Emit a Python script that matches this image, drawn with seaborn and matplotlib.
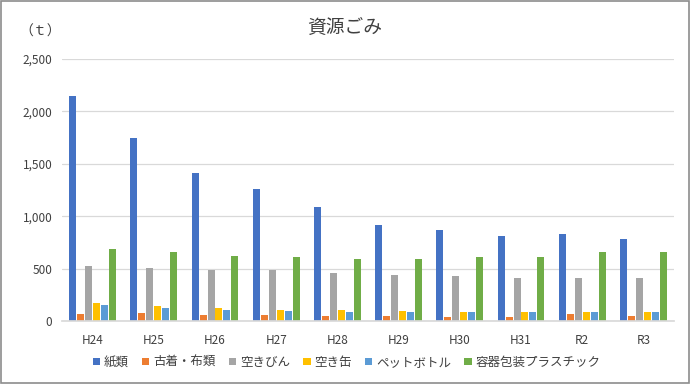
import numpy as np
import pandas as pd
import matplotlib
matplotlib.use("Agg")
import matplotlib.pyplot as plt
import seaborn as sns

years = ["H24", "H25", "H26", "H27", "H28", "H29", "H30", "H31", "R2", "R3"]
kinds = ["紙類", "古着・布類", "空きびん", "空き缶", "ペットボトル", "容器包装プラスチック"]
paper = [2145, 1750, 1410, 1260, 1085, 915, 870, 808, 828, 785]
cloth = [64, 74, 61, 61, 45, 45, 42, 42, 64, 45]
bottle = [523, 510, 488, 488, 462, 437, 430, 407, 411, 407]
can = [169, 147, 128, 109, 102, 96, 90, 83, 90, 83]
pet = [150, 121, 109, 96, 90, 90, 90, 90, 90, 90]
plastic = [685, 660, 622, 615, 596, 590, 609, 615, 654, 660]
colors = ["#4472C4", "#ED7D31", "#A5A5A5", "#FFC000", "#5B9BD5", "#70AD47"]

series = [paper, cloth, bottle, can, pet, plastic]
df = pd.DataFrame({
    "year": np.tile(years, len(kinds)),
    "kind": np.repeat(kinds, len(years)),
    "value": np.concatenate(series),
})

sns.set_theme(style="white")
plt.rcParams['font.family'] = ['Noto Sans CJK JP', 'DejaVu Sans']

fig = plt.figure(figsize=(6.9, 3.84), dpi=100)
ax = fig.add_axes([62 / 690, 1 - 321 / 384, 612 / 690, 262 / 384])

sns.barplot(data=df, x="year", y="value", hue="kind", hue_order=kinds,
            order=years, palette=colors, width=0.78, gap=0.12,
            saturation=1, linewidth=0, ax=ax, legend=True)

ax.set_ylim(0, 2500)
ax.set_xlim(-0.5, len(years) - 0.5)
ax.set_yticks(range(0, 2501, 500))
ax.set_yticklabels([f"{v:,}" for v in range(0, 2501, 500)])
ax.yaxis.grid(True, color="#D9D9D9", linewidth=0.9)
ax.set_axisbelow(True)
for s in ["top", "right", "left"]:
    ax.spines[s].set_visible(False)
ax.spines["bottom"].set_color("#D9D9D9")
ax.tick_params(axis="both", length=0, labelsize=8.5, colors="#404040", pad=7)
ax.tick_params(axis="x", pad=9)
ax.set_xlabel("")
ax.set_ylabel("")

handles, labels = ax.get_legend_handles_labels()
ax.legend(handles, labels, loc="center", bbox_to_anchor=(0.465, -0.158),
          ncol=6, frameon=False, fontsize=9, handlelength=0.6,
          handleheight=0.6, handletextpad=0.3, columnspacing=1.05,
          labelcolor="#404040")

fig.text(0.5, 1 - 27 / 384, "資源ごみ", ha="center", va="center",
         fontsize=13.5, color="#404040")
fig.text(40 / 690, 1 - 32 / 384, "（ｔ）", ha="center", va="center",
         fontsize=10, color="#404040")

border = plt.Rectangle((0.001, 0.002), 0.997, 0.995, transform=fig.transFigure,
                       fill=False, edgecolor="#8C8C8C", linewidth=1.2)
fig.patches.append(border)

fig.savefig("out.png", dpi=100)
